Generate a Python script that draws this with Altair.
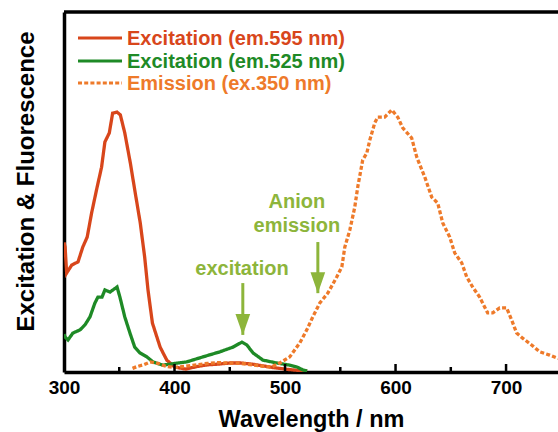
import altair as alt
import pandas as pd

# ---------------- data ----------------
red_wl = [300, 301, 302.4, 307, 312.7, 317, 321, 325, 330, 334, 337, 341, 344, 348, 351, 355,
          360, 364, 369, 373, 376, 380, 387, 393, 400, 410, 420, 430, 440, 450, 460, 470,
          480, 490, 500, 510, 520]
red_val = [36, 34.7, 27.5, 29.7, 30.6, 34.7, 37.5, 44.2, 51.4, 56.9, 63.9, 66.4, 71.9, 72.2,
           71.4, 66.4, 58.1, 50.6, 41.4, 31.9, 22.8, 13.6, 6.9, 3.3, 1.4, 0.8, 1.5, 2.0, 2.2,
           2.5, 2.5, 2.2, 1.7, 1.2, 0.8, 0.5, 0.3]

green_wl = [300, 301, 303.6, 308, 314.5, 319, 323.5, 328, 330.7, 334.4, 337, 341.6, 348, 350.6,
            355, 359.7, 364, 368.7, 375, 380.5, 389.5, 398.6, 411, 425.7, 441, 452.8, 461,
            465.5, 471, 480, 492.6, 504, 510.7, 516, 520]
green_val = [10.5, 9.7, 8.9, 10.8, 11.7, 13.1, 15.3, 19.2, 20.8, 20.8, 22.8, 22.2, 23.6, 20.8,
             15.3, 10.8, 6.9, 5.3, 4.2, 2.8, 1.9, 2.3, 2.8, 4.2, 5.6, 6.9, 8.3, 7.5, 5.3, 3.3,
             2.5, 1.9, 1.4, 0.6, 0.3]

emis_wl = [362, 366, 372, 378, 385, 392, 400, 410, 420, 430, 440, 450, 460, 470, 480, 488,
           495.3, 504.3, 513.4, 519.7, 525.1, 531.5, 538.7, 546.8, 551.4, 554.1, 558.6, 563.1,
           565.8, 570.3, 574, 576.7, 581.2, 583.9, 590.2, 596.6, 602, 606.5, 614.6, 619.2,
           626.4, 632.7, 638.2, 642.7, 649, 653.5, 659.9, 664.4, 669.8, 676.1, 683.4, 687.9,
           694.2, 700.5, 705.1, 709.6, 715, 723.1, 730.4, 739.4, 745.8, 750]
emis_val = [1.0, 1.5, 2.0, 2.8, 2.4, 1.6, 1.2, 1.6, 2.0, 2.4, 2.6, 2.5, 2.4, 2.0, 1.6, 1.4,
            2.5, 4.2, 8.1, 11.7, 15.3, 19.2, 21.9, 26.4, 29.2, 34.7, 39.4, 45.8, 51.4, 58.9,
            60.8, 64.4, 69.2, 70.8, 70.8, 72.8, 70.8, 67.8, 65.0, 59.7, 54.2, 48.6, 46.9, 41.4,
            37.5, 33.1, 30.3, 26.4, 23.6, 20.8, 16.4, 16.4, 17.8, 17.8, 14.4, 10.8, 9.4, 7.5,
            5.6, 4.7, 3.9, 3.6]

series_names = ["Excitation (em.595 nm)", "Excitation (em.525 nm)", "Emission (ex.350 nm)"]
series_colors = ["#D8461B", "#1E8A26", "#EE7A2A"]
series_dash = [[1, 0], [1, 0], [4, 2.2]]
series_width = [3.3, 3.3, 3.8]

ann_wl = [461, 510.7, 510.7]
ann_y = [27, 45.6, 38.9]
ann_text = ["excitation", "Anion", "emission"]

arrow_wl = [461.8, 529.7]
arrow_top = [24.7, 36.1]
arrow_tip = [10.3, 21.9]

major_ticks = [400, 500, 600, 700]
minor_ticks = [350, 450, 550, 650]

ANN = "#8DB53B"
FONT = "Liberation Sans"
W, H = 494, 360

# ---------------- tables ----------------
rows = []
for name, wls, vals in zip(series_names, [red_wl, green_wl, emis_wl], [red_val, green_val, emis_val]):
    for i, (w, v) in enumerate(zip(wls, vals)):
        rows.append({"wl": w, "val": v, "series": name, "order": i})
df = pd.DataFrame(rows)

xscale = alt.Scale(domain=[300, 747], nice=False, zero=False)
yscale = alt.Scale(domain=[0, 100], nice=False)

xaxis = alt.Axis(values=[300, 400, 500, 600, 700], ticks=False, grid=False,
                 domainColor="black", domainWidth=3.5, labelFont=FONT, labelFontSize=19,
                 labelFontWeight="bold", labelColor="black", labelPadding=6,
                 labelFlush=False, labelOverlap=False,
                 title="Wavelength / nm", titleFont=FONT, titleFontSize=23.5,
                 titleFontWeight="bold", titleColor="black", titlePadding=10)
yaxis = alt.Axis(labels=False, ticks=False, grid=False, domainColor="black",
                 domainWidth=3.5, title="Excitation & Fluorescence", titleFont=FONT,
                 titleFontSize=24, titleFontWeight="bold", titleColor="black",
                 titleAngle=270, titleAlign="center", titleBaseline="middle",
                 titleX=-38, titleY=169)


def X(field="wl"):
    return alt.X(f"{field}:Q", scale=xscale, axis=xaxis)


def Y(field="val"):
    return alt.Y(f"{field}:Q", scale=yscale, axis=yaxis)


lines = alt.Chart(df).mark_line(clip=True, strokeCap="butt").encode(
    x=X(), y=Y(),
    color=alt.Color("series:N", scale=alt.Scale(domain=series_names, range=series_colors), legend=None),
    strokeDash=alt.StrokeDash("series:N", scale=alt.Scale(domain=series_names, range=series_dash), legend=None),
    strokeWidth=alt.StrokeWidth("series:N", scale=alt.Scale(domain=series_names, range=series_width), legend=None),
    order="order:Q",
)

# inward ticks
major_df = pd.DataFrame({"wl": major_ticks})
minor_df = pd.DataFrame({"wl": minor_ticks})
ticks_major = alt.Chart(major_df).mark_rule(color="black", strokeWidth=2.5).encode(
    x=X(), y=alt.value(H), y2=alt.value(H - 8))
ticks_minor = alt.Chart(minor_df).mark_rule(color="black", strokeWidth=2.5).encode(
    x=X(), y=alt.value(H), y2=alt.value(H - 5))

top_border = alt.Chart(pd.DataFrame({"a": [0]})).mark_rule(color="black", strokeWidth=3.5).encode(
    x=alt.value(0), x2=alt.value(W), y=alt.value(0))

# annotations
ann_df = pd.DataFrame({"wl": ann_wl, "val": ann_y, "label": ann_text})
ann = alt.Chart(ann_df).mark_text(font=FONT, fontSize=20, fontWeight="bold", color=ANN,
                                  align="center", baseline="alphabetic").encode(
    x=X(), y=Y(), text="label:N")

arr_df = pd.DataFrame({"wl": arrow_wl, "val": arrow_tip, "top": arrow_top})
shaft = alt.Chart(arr_df).mark_rule(color=ANN, strokeWidth=3).encode(
    x=X(), y=Y("top"), y2=alt.Y2("val:Q"))
head = alt.Chart(arr_df).mark_point(shape="M-0.7,-2L0.7,-2L0,0Z", filled=True, size=441,
                                    color=ANN, opacity=1, strokeWidth=0).encode(
    x=X(), y=Y())

# manual legend (coloured labels)
leg_layers = []
leg_ys = [26, 49, 71]
for name, col, dash, sw, ly in zip(series_names, series_colors, series_dash, series_width, leg_ys):
    d = pd.DataFrame({"label": [name]})
    leg_layers.append(alt.Chart(d).mark_rule(color=col, strokeWidth=3, strokeDash=dash).encode(
        x=alt.value(14), x2=alt.value(58), y=alt.value(ly)))
    leg_layers.append(alt.Chart(d).mark_text(font=FONT, fontSize=20, fontWeight="bold", color=col,
                                             align="left", baseline="middle").encode(
        x=alt.value(63), y=alt.value(ly + 1), text="label:N"))

chart = alt.layer(top_border, lines, ticks_major, ticks_minor, shaft, head, ann, *leg_layers).properties(
    width=W, height=H,
    autosize=alt.AutoSizeParams(type="none"),
    padding={"left": 64, "top": 12, "right": 0, "bottom": 60},
    background="white",
).configure_view(stroke=None)

chart.save("out.html", embed_options={"renderer": "svg", "actions": False})
